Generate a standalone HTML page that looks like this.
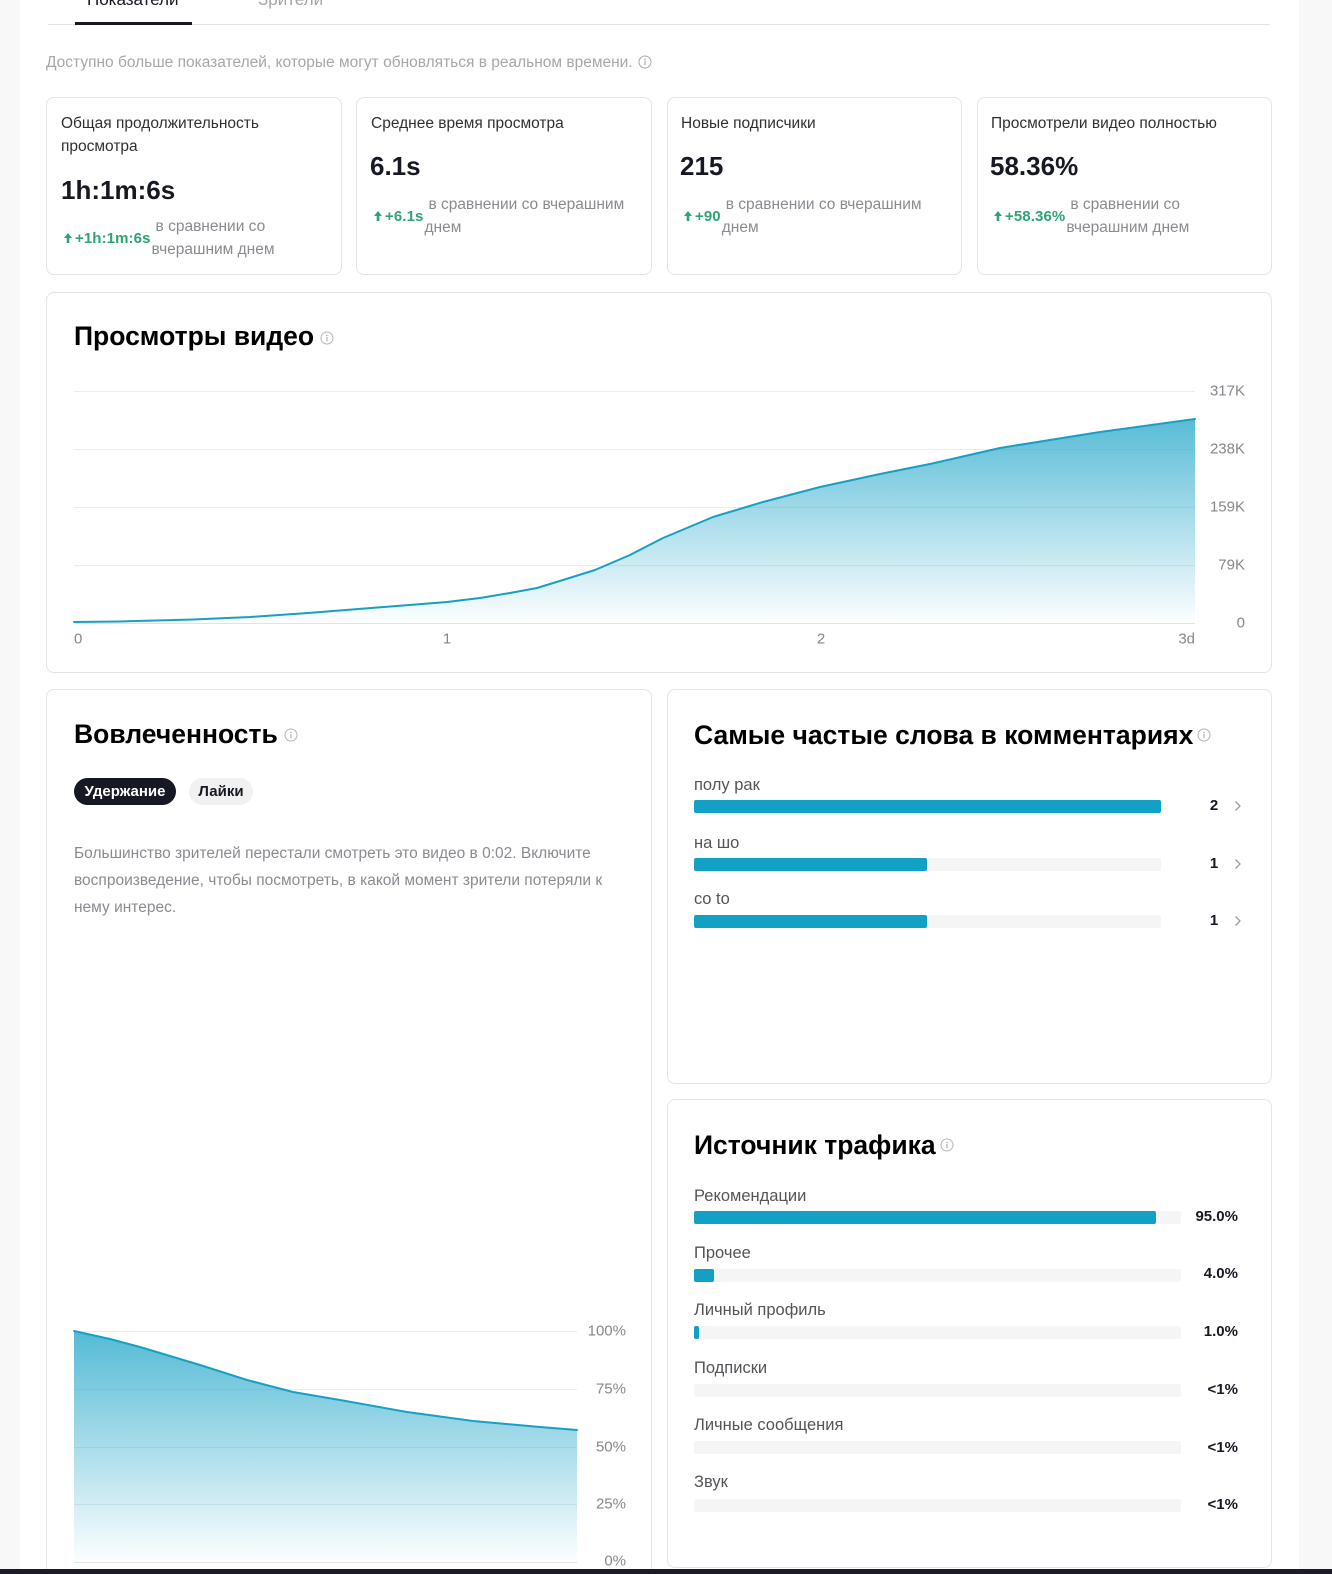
<!DOCTYPE html>
<html><head><meta charset="utf-8">
<style>
*{box-sizing:border-box;margin:0;padding:0}
html,body{width:1332px;height:1574px;overflow:hidden;background:#f8f8f8;font-family:"Liberation Sans","Noto Sans CJK SC",sans-serif}
#root{position:relative;width:1332px;height:1574px;overflow:hidden;background:#f8f8f8}
.abs{position:absolute}
.t{position:absolute;white-space:nowrap}
.card{position:absolute;background:#fff;border:1px solid #e4e4e7;border-radius:8px}
.ttl{position:absolute;white-space:nowrap;font-size:15.5px;line-height:23px;color:#2f3034}
.val{position:absolute;white-space:nowrap;font-size:26px;line-height:30px;font-weight:bold;color:#161823}
.delta{position:absolute;display:flex;align-items:center;white-space:nowrap}
.delta .g{color:#2ea374;font-weight:bold;font-size:15px;letter-spacing:0.1px;margin-left:3px}
.delta .gr{color:#8a8b91;font-size:15.5px;line-height:23.5px;margin-left:1px;text-indent:4px}
.h{position:absolute;white-space:nowrap;font-size:26.5px;line-height:30px;font-weight:bold;color:#000}
.lbl{position:absolute;white-space:nowrap;font-size:16.5px;line-height:20px;color:#545459}
.track{position:absolute;height:13px;background:#f5f5f6;border-radius:2px}
.fill{position:absolute;left:0;top:0;height:13px;background:#12a1c4;border-radius:2px}
.num{position:absolute;white-space:nowrap;font-size:15px;line-height:20px;font-weight:bold;color:#161823}
</style></head><body>
<div id="root">
<div class="abs" style="left:20px;top:0;width:1279px;height:1574px;background:#fff"></div>

<!-- tabs -->
<div class="t" style="left:87px;top:-10px;font-size:17px;line-height:20px;color:#161823">Показатели</div>
<div class="t" style="left:258px;top:-10px;font-size:17px;line-height:20px;color:#a3a4a8">Зрители</div>
<div class="abs" style="left:48px;top:24px;width:1222px;height:1px;background:#e3e3e4"></div>
<div class="abs" style="left:75px;top:22px;width:117px;height:3px;background:#161823"></div>

<!-- info line -->
<div class="t" style="left:46px;top:52.5px;font-size:15.5px;line-height:20px;color:#a6a7ab">Доступно больше показателей, которые могут обновляться в реальном времени.</div>
<svg class="abs" style="left:638px;top:55px" width="14" height="14" viewBox="0 0 14 14"><circle cx="7" cy="7" r="6" fill="none" stroke="#a6a7ab" stroke-width="1"/><circle cx="7" cy="4.2" r="0.8" fill="#a6a7ab"/><rect x="6.4" y="5.8" width="1.2" height="4.4" fill="#a6a7ab"/></svg>

<!-- top cards -->
<div class="card" style="left:46px;top:97px;width:296px;height:178px"></div>
<div class="card" style="left:356px;top:97px;width:296px;height:178px"></div>
<div class="card" style="left:667px;top:97px;width:295px;height:178px"></div>
<div class="card" style="left:977px;top:97px;width:295px;height:178px"></div>

<div class="ttl" style="left:61px;top:111.5px">Общая продолжительность<br>просмотра</div>
<div class="val" style="left:61px;top:175px">1h:1m:6s</div>
<div class="delta" style="left:64px;top:214.5px">
<svg width="8" height="10" viewBox="0 0 8 10"><path d="M4 0 L8 5 L5.3 5 L5.3 10 L2.7 10 L2.7 5 L0 5 Z" fill="#2ea374"/></svg>
<span class="g">+1h:1m:6s</span><span class="gr">в сравнении со<br>вчерашним днем</span></div>

<div class="ttl" style="left:371px;top:111.5px">Среднее время просмотра</div>
<div class="val" style="left:370px;top:151px">6.1s</div>
<div class="delta" style="left:374px;top:192.5px">
<svg width="8" height="10" viewBox="0 0 8 10"><path d="M4 0 L8 5 L5.3 5 L5.3 10 L2.7 10 L2.7 5 L0 5 Z" fill="#2ea374"/></svg>
<span class="g">+6.1s</span><span class="gr">в сравнении со вчерашним<br>днем</span></div>

<div class="ttl" style="left:681px;top:111.5px">Новые подписчики</div>
<div class="val" style="left:680px;top:151px">215</div>
<div class="delta" style="left:684px;top:192.5px">
<svg width="8" height="10" viewBox="0 0 8 10"><path d="M4 0 L8 5 L5.3 5 L5.3 10 L2.7 10 L2.7 5 L0 5 Z" fill="#2ea374"/></svg>
<span class="g">+90</span><span class="gr">в сравнении со вчерашним<br>днем</span></div>

<div class="ttl" style="left:991px;top:111.5px">Просмотрели видео полностью</div>
<div class="val" style="left:990px;top:151px">58.36%</div>
<div class="delta" style="left:994px;top:192.5px">
<svg width="8" height="10" viewBox="0 0 8 10"><path d="M4 0 L8 5 L5.3 5 L5.3 10 L2.7 10 L2.7 5 L0 5 Z" fill="#2ea374"/></svg>
<span class="g">+58.36%</span><span class="gr">в сравнении со<br>вчерашним днем</span></div>

<!-- views card -->
<div class="card" style="left:46px;top:292px;width:1226px;height:381px"></div>
<div class="h" style="left:74px;top:321px">Просмотры видео</div>

<!-- engagement card -->
<div class="card" style="left:46px;top:689px;width:606px;height:895px"></div>
<div class="h" style="left:74px;top:719px">Вовлеченность</div>
<div class="abs" style="left:74px;top:778px;width:102px;height:27px;border-radius:14px;background:#161823;color:#fff;font-weight:bold;font-size:15px;line-height:27px;text-align:center">Удержание</div>
<div class="abs" style="left:189px;top:778px;width:64px;height:27px;border-radius:14px;background:#f1f1f2;color:#161823;font-weight:bold;font-size:15px;line-height:27px;text-align:center">Лайки</div>
<div class="t" style="left:74px;top:839.5px;font-size:15.5px;line-height:27px;color:#8a8b91">Большинство зрителей перестали смотреть это видео в 0:02. Включите<br>воспроизведение, чтобы посмотреть, в какой момент зрители потеряли к<br>нему интерес.</div>

<!-- comments card -->
<div class="card" style="left:667px;top:689px;width:605px;height:395px"></div>
<div class="h" style="left:694px;top:720px">Самые частые слова в комментариях</div>
<div class="lbl" style="left:694px;top:775px">полу рак</div>
<div class="track" style="left:694px;top:800px;width:467px"><div class="fill" style="width:467px"></div></div>
<div class="num" style="left:1204px;top:796px;width:20px;text-align:center">2</div>
<div class="lbl" style="left:694px;top:833px">на шо</div>
<div class="track" style="left:694px;top:858px;width:467px"><div class="fill" style="width:233px"></div></div>
<div class="num" style="left:1204px;top:854px;width:20px;text-align:center">1</div>
<div class="lbl" style="left:694px;top:889px">co to</div>
<div class="track" style="left:694px;top:915px;width:467px"><div class="fill" style="width:233px"></div></div>
<div class="num" style="left:1204px;top:911px;width:20px;text-align:center">1</div>
<svg class="abs" style="left:1234px;top:800px" width="8" height="12"><polyline points="1.5,1.5 6,6 1.5,10.5" fill="none" stroke="#9a9ba0" stroke-width="1.3"/></svg>
<svg class="abs" style="left:1234px;top:858px" width="8" height="12"><polyline points="1.5,1.5 6,6 1.5,10.5" fill="none" stroke="#9a9ba0" stroke-width="1.3"/></svg>
<svg class="abs" style="left:1234px;top:915px" width="8" height="12"><polyline points="1.5,1.5 6,6 1.5,10.5" fill="none" stroke="#9a9ba0" stroke-width="1.3"/></svg>

<!-- traffic card -->
<div class="card" style="left:667px;top:1099px;width:605px;height:469px"></div>
<div class="h" style="left:694px;top:1130px">Источник трафика</div>

<div class="lbl" style="left:694px;top:1186px">Рекомендации</div>
<div class="track" style="left:694px;top:1211px;width:487px"><div class="fill" style="width:462px"></div></div>
<div class="num" style="left:1158px;top:1207px;width:80px;text-align:right">95.0%</div>

<div class="lbl" style="left:694px;top:1243px">Прочее</div>
<div class="track" style="left:694px;top:1269px;width:487px"><div class="fill" style="width:19.5px"></div></div>
<div class="num" style="left:1158px;top:1264px;width:80px;text-align:right">4.0%</div>

<div class="lbl" style="left:694px;top:1300px">Личный профиль</div>
<div class="track" style="left:694px;top:1326px;width:487px"><div class="fill" style="width:5px"></div></div>
<div class="num" style="left:1158px;top:1322px;width:80px;text-align:right">1.0%</div>

<div class="lbl" style="left:694px;top:1358px">Подписки</div>
<div class="track" style="left:694px;top:1384px;width:487px"></div>
<div class="num" style="left:1158px;top:1380px;width:80px;text-align:right">&lt;1%</div>

<div class="lbl" style="left:694px;top:1415px">Личные сообщения</div>
<div class="track" style="left:694px;top:1441px;width:487px"></div>
<div class="num" style="left:1158px;top:1438px;width:80px;text-align:right">&lt;1%</div>

<div class="lbl" style="left:694px;top:1472px">Звук</div>
<div class="track" style="left:694px;top:1499px;width:487px"></div>
<div class="num" style="left:1158px;top:1495px;width:80px;text-align:right">&lt;1%</div>

<!-- charts + icons overlay -->
<svg class="abs" style="left:0;top:0" width="1332" height="1574" viewBox="0 0 1332 1574">
<defs>
<linearGradient id="gv" gradientUnits="userSpaceOnUse" x1="0" y1="391" x2="0" y2="623">
<stop offset="0" stop-color="#11a0c5" stop-opacity="0.8"/>
<stop offset="1" stop-color="#11a0c5" stop-opacity="0.01"/>
</linearGradient>
<linearGradient id="ge" gradientUnits="userSpaceOnUse" x1="0" y1="1331" x2="0" y2="1562">
<stop offset="0" stop-color="#11a0c5" stop-opacity="0.72"/>
<stop offset="1" stop-color="#11a0c5" stop-opacity="0.01"/>
</linearGradient>
<g id="info"><circle cx="0" cy="0" r="6" fill="none" stroke="#b4b5b9" stroke-width="1"/><circle cx="0" cy="-2.6" r="0.8" fill="#b4b5b9"/><rect x="-0.6" y="-1.1" width="1.2" height="4.3" fill="#b4b5b9"/></g>
</defs>
<use href="#info" x="327" y="338"/>
<use href="#info" x="291" y="735"/>
<use href="#info" x="1204" y="735"/>
<use href="#info" x="947" y="1145"/>

<g stroke="#ececee" stroke-width="1">
<line x1="74" y1="391.5" x2="1195" y2="391.5"/>
<line x1="74" y1="449.5" x2="1195" y2="449.5"/>
<line x1="74" y1="507.5" x2="1195" y2="507.5"/>
<line x1="74" y1="565.5" x2="1195" y2="565.5"/>
</g>
<line x1="74" y1="623.5" x2="1195" y2="623.5" stroke="#e2e2e4" stroke-width="1"/>
<path d="M74,623 L120,622 L193,620 L250,617 L308,613 L384,607 L447,602 L480,598 L510,593 L537,588 L563,580 L595,570 L630,555 L663,538 L713,517 L763,502 L820,487 L880,474 L930,464 L1000,448 L1100,432 L1195,419 L1195,623 Z" fill="url(#gv)"/>
<polyline points="74,622 120,621.5 193,619.5 250,617 308,613 384,607 447,602 480,598 510,593 537,588 563,580 595,570 630,555 663,538 713,517 763,502 820,487 880,474 930,464 1000,448 1100,432 1195,419" fill="none" stroke="#17a0c4" stroke-width="2" stroke-linejoin="round" stroke-linecap="round"/>
<g font-family="Liberation Sans, sans-serif" font-size="15" fill="#86878c" text-anchor="end">
<text x="1245" y="395.5">317K</text>
<text x="1245" y="453.5">238K</text>
<text x="1245" y="511.5">159K</text>
<text x="1245" y="569.5">79K</text>
<text x="1245" y="627.5">0</text>
</g>
<g font-family="Liberation Sans, sans-serif" font-size="15" fill="#86878c">
<text x="74" y="643.5">0</text>
<text x="447" y="643.5" text-anchor="middle">1</text>
<text x="821" y="643.5" text-anchor="middle">2</text>
<text x="1195" y="643.5" text-anchor="end">3d</text>
</g>

<g stroke="#ececee" stroke-width="1">
<line x1="74" y1="1331.5" x2="577" y2="1331.5"/>
<line x1="74" y1="1389.5" x2="577" y2="1389.5"/>
<line x1="74" y1="1447.5" x2="577" y2="1447.5"/>
<line x1="74" y1="1504.5" x2="577" y2="1504.5"/>
</g>
<line x1="74" y1="1562.5" x2="577" y2="1562.5" stroke="#e2e2e4" stroke-width="1"/>
<path d="M74,1331 L110,1339 L140,1347 L170,1356 L200,1365 L247,1380 L293,1392 L340,1400 L407,1412 L473,1421 L540,1427 L577,1430 L577,1562 L74,1562 Z" fill="url(#ge)"/>
<polyline points="74,1331 110,1339 140,1347 170,1356 200,1365 247,1380 293,1392 340,1400 407,1412 473,1421 540,1427 577,1430" fill="none" stroke="#17a0c4" stroke-width="2" stroke-linejoin="round" stroke-linecap="round"/>
<g font-family="Liberation Sans, sans-serif" font-size="15" fill="#86878c" text-anchor="end">
<text x="626" y="1335.5">100%</text>
<text x="626" y="1393.5">75%</text>
<text x="626" y="1451.5">50%</text>
<text x="626" y="1508.5">25%</text>
<text x="626" y="1565.5">0%</text>
</g>
</svg>

<div class="abs" style="left:0;top:1569px;width:1332px;height:5px;background:#1d1b2b"></div>
</div>
</body></html>
